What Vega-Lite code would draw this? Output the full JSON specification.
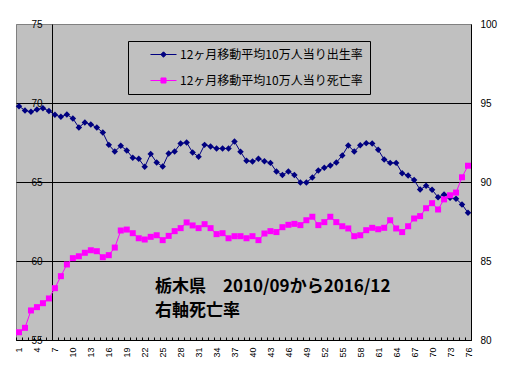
{
  "$schema": "https://vega.github.io/schema/vega-lite/v6.json",
  "width": 455,
  "height": 316,
  "autosize": "none",
  "padding": {"left": 16, "top": 24, "right": 42, "bottom": 39},
  "background": "white",
  "config": {
    "view": {"fill": "#C0C0C0", "stroke": "#808080", "strokeWidth": 1},
    "axis": {"labelFont": "Liberation Sans", "labelColor": "black", "labelFontSize": 10, "title": null, "domainColor": "black", "tickColor": "black"},
    "axisX": {"labelOverlap": false},
    "legend": {"labelFont": "Noto Sans CJK JP"}
  },
  "data": {
    "values": [
      {"k": 1, "birth": 69.80, "death": 80.49},
      {"k": 2, "birth": 69.53, "death": 80.77},
      {"k": 3, "birth": 69.44, "death": 81.87},
      {"k": 4, "birth": 69.59, "death": 82.08},
      {"k": 5, "birth": 69.67, "death": 82.33},
      {"k": 6, "birth": 69.50, "death": 82.63},
      {"k": 7, "birth": 69.25, "death": 83.28},
      {"k": 8, "birth": 69.13, "death": 84.04},
      {"k": 9, "birth": 69.27, "death": 84.78},
      {"k": 10, "birth": 69.02, "death": 85.18},
      {"k": 11, "birth": 68.45, "death": 85.30},
      {"k": 12, "birth": 68.77, "death": 85.52},
      {"k": 13, "birth": 68.64, "death": 85.68},
      {"k": 14, "birth": 68.45, "death": 85.62},
      {"k": 15, "birth": 68.13, "death": 85.24},
      {"k": 16, "birth": 67.35, "death": 85.37},
      {"k": 17, "birth": 66.93, "death": 85.85},
      {"k": 18, "birth": 67.29, "death": 86.93},
      {"k": 19, "birth": 67.00, "death": 86.99},
      {"k": 20, "birth": 66.53, "death": 86.76},
      {"k": 21, "birth": 66.47, "death": 86.44},
      {"k": 22, "birth": 65.96, "death": 86.36},
      {"k": 23, "birth": 66.78, "death": 86.53},
      {"k": 24, "birth": 66.23, "death": 86.63},
      {"k": 25, "birth": 65.98, "death": 86.32},
      {"k": 26, "birth": 66.80, "death": 86.59},
      {"k": 27, "birth": 66.93, "death": 86.89},
      {"k": 28, "birth": 67.44, "death": 87.08},
      {"k": 29, "birth": 67.50, "death": 87.44},
      {"k": 30, "birth": 66.87, "death": 87.25},
      {"k": 31, "birth": 66.60, "death": 87.08},
      {"k": 32, "birth": 67.35, "death": 87.33},
      {"k": 33, "birth": 67.25, "death": 87.08},
      {"k": 34, "birth": 67.12, "death": 86.70},
      {"k": 35, "birth": 67.12, "death": 86.76},
      {"k": 36, "birth": 67.12, "death": 86.44},
      {"k": 37, "birth": 67.56, "death": 86.57},
      {"k": 38, "birth": 66.91, "death": 86.57},
      {"k": 39, "birth": 66.34, "death": 86.44},
      {"k": 40, "birth": 66.30, "death": 86.57},
      {"k": 41, "birth": 66.47, "death": 86.32},
      {"k": 42, "birth": 66.32, "death": 86.74},
      {"k": 43, "birth": 66.21, "death": 86.89},
      {"k": 44, "birth": 65.66, "death": 86.83},
      {"k": 45, "birth": 65.45, "death": 87.14},
      {"k": 46, "birth": 65.66, "death": 87.29},
      {"k": 47, "birth": 65.45, "death": 87.35},
      {"k": 48, "birth": 64.97, "death": 87.27},
      {"k": 49, "birth": 64.97, "death": 87.58},
      {"k": 50, "birth": 65.28, "death": 87.80},
      {"k": 51, "birth": 65.73, "death": 87.27},
      {"k": 52, "birth": 65.90, "death": 87.46},
      {"k": 53, "birth": 66.04, "death": 87.80},
      {"k": 54, "birth": 66.23, "death": 87.46},
      {"k": 55, "birth": 66.68, "death": 87.20},
      {"k": 56, "birth": 67.31, "death": 87.06},
      {"k": 57, "birth": 66.93, "death": 86.57},
      {"k": 58, "birth": 67.33, "death": 86.63},
      {"k": 59, "birth": 67.46, "death": 86.95},
      {"k": 60, "birth": 67.44, "death": 87.10},
      {"k": 61, "birth": 67.04, "death": 87.01},
      {"k": 62, "birth": 66.42, "death": 87.10},
      {"k": 63, "birth": 66.21, "death": 87.58},
      {"k": 64, "birth": 66.21, "death": 87.06},
      {"k": 65, "birth": 65.56, "death": 86.83},
      {"k": 66, "birth": 65.41, "death": 87.20},
      {"k": 67, "birth": 65.12, "death": 87.69},
      {"k": 68, "birth": 64.52, "death": 87.84},
      {"k": 69, "birth": 64.76, "death": 88.34},
      {"k": 70, "birth": 64.51, "death": 88.66},
      {"k": 71, "birth": 64.03, "death": 88.26},
      {"k": 72, "birth": 64.21, "death": 88.90},
      {"k": 73, "birth": 64.00, "death": 89.16},
      {"k": 74, "birth": 63.94, "death": 89.33},
      {"k": 75, "birth": 63.58, "death": 90.30},
      {"k": 76, "birth": 63.05, "death": 91.03}
    ]
  },
  "layer": [
    {
      "encoding": {
        "x": {"field": "k", "type": "quantitative", "scale": {"domain": [0.5, 76.5], "nice": false, "zero": false},
          "axis": {"orient": "bottom", "values": [1,4,7,10,13,16,19,22,25,28,31,34,37,40,43,46,49,52,55,58,61,64,67,70,73,76],
            "labelAngle": -90, "labelFontSize": 9, "ticks": false, "labelPadding": 7, "grid": false, "domain": true, "labelOverlap": false, "labelSeparation": 0, "labelFlush": false}},
        "y": {"field": "birth", "type": "quantitative", "scale": {"domain": [55, 75], "nice": false, "zero": false},
          "axis": {"orient": "left", "values": [55, 60, 65, 70, 75], "offset": -36, "ticks": false, "labelPadding": 10, "grid": false, "domain": true}}
      },
      "layer": [
        {
          "mark": {"type": "line", "strokeWidth": 1},
          "encoding": {
            "color": {"datum": "12ヶ月移動平均10万人当り出生率", "type": "nominal",
              "scale": {"domain": ["12ヶ月移動平均10万人当り出生率", "12ヶ月移動平均10万人当り死亡率"], "range": ["#000080", "#FF00FF"]},
              "legend": {
                "title": null, "orient": "none", "legendX": 112, "legendY": 17,
                "strokeColor": "black", "fillColor": "#C0C0C0", "padding": 7,
                "symbolSize": 144, "symbolOffset": 22, "labelOffset": 10, "rowPadding": 13, "labelLimit": 400,
                "labelFontSize": 12, "labelColor": "black", "labelFont": "Noto Sans CJK JP",
                "labelExpr": "datum.label + '\u3000'",
                "encode": {"symbols": {"update": {
                  "shape": {"signal": "datum.index === 0 ? 'M-2.167,0H2.167M-0.45,0L0,-0.45L0.45,0L0,0.45Z' : 'M-2.167,0H2.167M-0.42,-0.42H0.42V0.42H-0.42Z'"},
                  "stroke": {"signal": "datum.index === 0 ? '#000080' : '#FF00FF'"},
                  "fill": {"signal": "datum.index === 0 ? '#000080' : '#FF00FF'"},
                  "strokeWidth": {"value": 1},
                  "opacity": {"value": 1}
                }}}
              }}
          }
        },
        {
          "mark": {"type": "point", "shape": "diamond", "filled": true, "size": 42, "opacity": 1},
          "encoding": {
            "color": {"datum": "12ヶ月移動平均10万人当り出生率", "type": "nominal"}
          }
        }
      ]
    },
    {
      "encoding": {
        "x": {"field": "k", "type": "quantitative", "scale": {"domain": [0.5, 76.5], "nice": false, "zero": false},
          "axis": {"orient": "bottom", "values": [0.5,1.5,2.5,3.5,4.5,5.5,6.5,7.5,8.5,9.5,10.5,11.5,12.5,13.5,14.5,15.5,16.5,17.5,18.5,19.5,20.5,21.5,22.5,23.5,24.5,25.5,26.5,27.5,28.5,29.5,30.5,31.5,32.5,33.5,34.5,35.5,36.5,37.5,38.5,39.5,40.5,41.5,42.5,43.5,44.5,45.5,46.5,47.5,48.5,49.5,50.5,51.5,52.5,53.5,54.5,55.5,56.5,57.5,58.5,59.5,60.5,61.5,62.5,63.5,64.5,65.5,66.5,67.5,68.5,69.5,70.5,71.5,72.5,73.5,74.5,75.5,76.5],
            "labels": false, "domain": false, "ticks": true, "tickSize": 3, "offset": -3, "grid": false}},
        "y": {"field": "death", "type": "quantitative", "scale": {"domain": [80, 100], "nice": false, "zero": false},
          "axis": {"orient": "right", "values": [80, 85, 90, 95, 100], "ticks": false, "labelPadding": 9, "domain": true, "grid": true,
            "gridColor": {"condition": {"test": "datum.value == 100", "value": "#808080"}, "value": "black"}, "gridOpacity": 1}},
        "color": {"datum": "12ヶ月移動平均10万人当り死亡率", "type": "nominal"}
      },
      "layer": [
        {"mark": {"type": "line", "strokeWidth": 1}},
        {"mark": {"type": "point", "shape": "square", "filled": true, "size": 36, "opacity": 1}}
      ]
    },
    {
      "data": {"values": [{"note": "栃木県　2010/09から2016/12", "line": 1}, {"note": "右軸死亡率", "line": 2}]},
      "layer": [
        {
          "transform": [{"filter": "datum.line === 1"}],
          "mark": {"type": "text", "font": "Noto Sans CJK JP", "fontWeight": "bold", "fontSize": 17, "align": "left", "baseline": "middle", "color": "black"},
          "encoding": {
            "text": {"field": "note"},
            "x": {"datum": 23.7, "type": "quantitative", "scale": {"domain": [0.5, 76.5], "nice": false, "zero": false}, "axis": null},
            "y": {"datum": 58.35, "type": "quantitative", "scale": {"domain": [55, 75], "nice": false, "zero": false}, "axis": null}
          }
        },
        {
          "transform": [{"filter": "datum.line === 2"}],
          "mark": {"type": "text", "font": "Noto Sans CJK JP", "fontWeight": "bold", "fontSize": 17, "align": "left", "baseline": "middle", "color": "black"},
          "encoding": {
            "text": {"field": "note"},
            "x": {"datum": 23.7, "type": "quantitative"},
            "y": {"datum": 56.85, "type": "quantitative"}
          }
        }
      ]
    }
  ],
  "resolve": {"scale": {"x": "independent", "y": "independent"}}
}
